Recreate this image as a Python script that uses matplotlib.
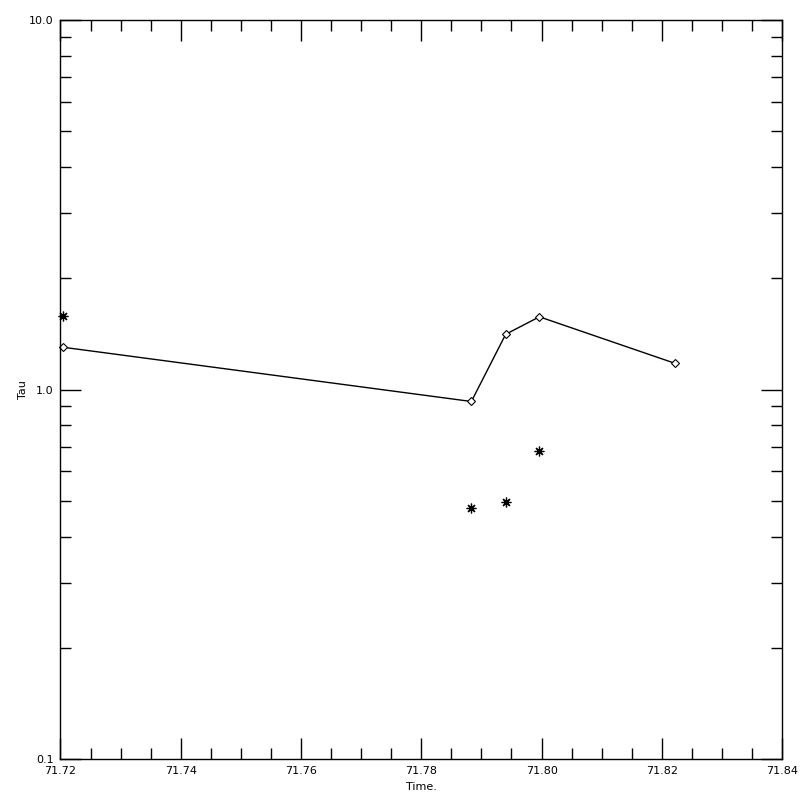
import matplotlib
matplotlib.use("Agg")
import matplotlib.pyplot as plt
from matplotlib.ticker import FixedLocator, MultipleLocator, LogLocator, NullFormatter, FormatStrFormatter

# diamond series (connected line)
time_line = [71.72047, 71.78833, 71.79404, 71.79964, 71.82226]
tau_line = [1.301, 0.928, 1.411, 1.573, 1.176]

# asterisk series (points only)
time_pts = [71.72047, 71.78833, 71.79404, 71.79964]
tau_pts = [1.585, 0.479, 0.497, 0.682]

x_major = [71.72, 71.74, 71.76, 71.78, 71.80, 71.82, 71.84]
y_major = [0.1, 1.0, 10.0]

fig = plt.figure(figsize=(8, 8), dpi=100)
ax = fig.add_axes([0.0756, 0.05125, 0.902, 0.92375])

ax.plot(time_line, tau_line, color="black", lw=1.0, marker="D", ms=4.5,
        mfc="white", mec="black", mew=0.8, clip_on=False)
ax.plot(time_pts, tau_pts, ls="none", color="black", marker=(8, 2, 0), ms=7,
        mew=0.9, clip_on=False)

ax.set_xlim(71.72, 71.84)
ax.set_yscale("log")
ax.set_ylim(0.1, 10.0)

ax.xaxis.set_major_locator(FixedLocator(x_major))
ax.xaxis.set_minor_locator(MultipleLocator(0.005))
ax.xaxis.set_major_formatter(FormatStrFormatter("%.2f"))
ax.yaxis.set_major_locator(FixedLocator(y_major))
ax.yaxis.set_minor_locator(LogLocator(base=10, subs=range(2, 10)))
ax.yaxis.set_major_formatter(FormatStrFormatter("%.1f"))
ax.yaxis.set_minor_formatter(NullFormatter())

ax.tick_params(which="both", direction="in", top=True, right=True, width=1.0,
               labelsize=8, colors="black")
ax.tick_params(which="major", length=15, pad=5)
ax.tick_params(which="minor", length=8)
for s in ax.spines.values():
    s.set_linewidth(1.0)

ax.set_xlabel("Time.", fontsize=8, labelpad=4)
ax.set_ylabel("Tau", fontsize=8, labelpad=1)

fig.savefig("out.png", dpi=100)
